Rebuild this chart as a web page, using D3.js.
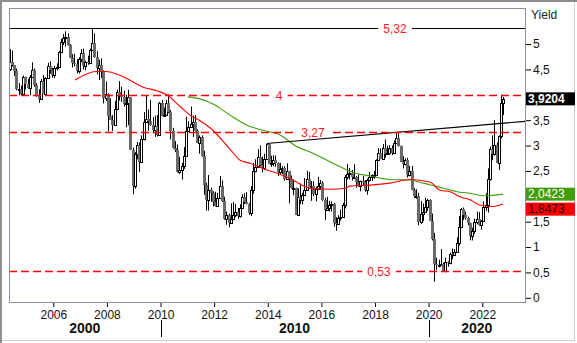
<!DOCTYPE html>
<html>
<head>
<meta charset="utf-8">
<script src="https://cdn.jsdelivr.net/npm/d3@7"></script>
<style>
  html, body { margin: 0; padding: 0; background: #fff; }
  svg { display: block; font-family: "Liberation Sans", Arial, sans-serif; }
</style>
</head>
<body>
<svg id="chart" width="577" height="343"></svg>
<script>
// Monthly yield candles, May 2004 – Oct 2022
const months = [
  "2004-05","2004-06","2004-07","2004-08","2004-09","2004-10","2004-11","2004-12",
  "2005-01","2005-02","2005-03","2005-04","2005-05","2005-06","2005-07","2005-08","2005-09","2005-10","2005-11","2005-12",
  "2006-01","2006-02","2006-03","2006-04","2006-05","2006-06","2006-07","2006-08","2006-09","2006-10","2006-11","2006-12",
  "2007-01","2007-02","2007-03","2007-04","2007-05","2007-06","2007-07","2007-08","2007-09","2007-10","2007-11","2007-12",
  "2008-01","2008-02","2008-03","2008-04","2008-05","2008-06","2008-07","2008-08","2008-09","2008-10","2008-11","2008-12",
  "2009-01","2009-02","2009-03","2009-04","2009-05","2009-06","2009-07","2009-08","2009-09","2009-10","2009-11","2009-12",
  "2010-01","2010-02","2010-03","2010-04","2010-05","2010-06","2010-07","2010-08","2010-09","2010-10","2010-11","2010-12",
  "2011-01","2011-02","2011-03","2011-04","2011-05","2011-06","2011-07","2011-08","2011-09","2011-10","2011-11","2011-12",
  "2012-01","2012-02","2012-03","2012-04","2012-05","2012-06","2012-07","2012-08","2012-09","2012-10","2012-11","2012-12",
  "2013-01","2013-02","2013-03","2013-04","2013-05","2013-06","2013-07","2013-08","2013-09","2013-10","2013-11","2013-12",
  "2014-01","2014-02","2014-03","2014-04","2014-05","2014-06","2014-07","2014-08","2014-09","2014-10","2014-11","2014-12",
  "2015-01","2015-02","2015-03","2015-04","2015-05","2015-06","2015-07","2015-08","2015-09","2015-10","2015-11","2015-12",
  "2016-01","2016-02","2016-03","2016-04","2016-05","2016-06","2016-07","2016-08","2016-09","2016-10","2016-11","2016-12",
  "2017-01","2017-02","2017-03","2017-04","2017-05","2017-06","2017-07","2017-08","2017-09","2017-10","2017-11","2017-12",
  "2018-01","2018-02","2018-03","2018-04","2018-05","2018-06","2018-07","2018-08","2018-09","2018-10","2018-11","2018-12",
  "2019-01","2019-02","2019-03","2019-04","2019-05","2019-06","2019-07","2019-08","2019-09","2019-10","2019-11","2019-12",
  "2020-01","2020-02","2020-03","2020-04","2020-05","2020-06","2020-07","2020-08","2020-09","2020-10","2020-11","2020-12",
  "2021-01","2021-02","2021-03","2021-04","2021-05","2021-06","2021-07","2021-08","2021-09","2021-10","2021-11","2021-12",
  "2022-01","2022-02","2022-03","2022-04","2022-05","2022-06","2022-07","2022-08","2022-09","2022-10"
];
const open = [
  4.51,4.65,4.58,4.47,4.12,4.12,4.02,4.35,
  4.22,4.13,4.36,4.48,4.20,3.98,3.91,4.28,4.02,4.33,4.56,4.49,
  4.39,4.52,4.55,4.85,5.05,5.12,5.14,4.98,4.73,4.63,4.61,4.46,
  4.70,4.82,4.56,4.64,4.63,4.89,5.02,4.74,4.53,4.58,4.47,3.94,
  4.02,3.59,3.51,3.41,3.73,4.06,3.97,3.95,3.81,3.83,3.95,2.92,
  2.21,2.84,3.02,2.67,3.12,3.46,3.53,3.48,3.40,3.31,3.39,3.20,
  3.84,3.59,3.61,3.83,3.66,3.29,2.95,2.91,2.47,2.51,2.60,2.80,
  3.29,3.37,3.42,3.47,3.29,3.05,3.16,2.80,2.22,1.92,2.12,2.07,
  1.88,1.80,1.97,2.21,1.91,1.56,1.64,1.47,1.55,1.63,1.69,1.62,
  1.76,1.98,1.88,1.85,1.67,2.13,2.49,2.58,2.78,2.61,2.55,2.74,
  3.03,2.64,2.65,2.72,2.65,2.48,2.53,2.56,2.34,2.49,2.34,2.16,
  2.17,1.64,1.99,1.92,2.03,2.12,2.35,2.18,2.21,2.04,2.14,2.21,
  2.27,1.92,1.73,1.77,1.83,1.85,1.47,1.45,1.58,1.59,1.83,2.38,
  2.44,2.45,2.39,2.39,2.28,2.20,2.30,2.29,2.12,2.33,2.38,2.41,
  2.41,2.71,2.86,2.74,2.95,2.83,2.85,2.96,2.86,3.06,3.14,2.99,
  2.68,2.63,2.72,2.41,2.50,2.12,2.00,2.01,1.50,1.66,1.69,1.78,
  1.92,1.51,1.15,0.67,0.64,0.65,0.66,0.53,0.70,0.68,0.87,0.84,
  0.91,1.07,1.40,1.74,1.63,1.58,1.47,1.22,1.31,1.49,1.55,1.44,
  1.51,1.78,1.83,2.34,2.94,2.84,3.01,2.65,3.19,3.83
];
const high = [
  4.90,4.87,4.58,4.52,4.23,4.18,4.38,4.36,
  4.31,4.39,4.64,4.52,4.23,4.11,4.31,4.39,4.35,4.63,4.66,4.53,
  4.57,4.62,4.87,5.10,5.20,5.25,5.21,5.00,4.80,4.81,4.70,4.74,
  4.90,4.91,4.67,4.77,4.91,5.32,5.21,4.86,4.69,4.72,4.48,4.26,
  4.03,3.93,3.60,3.88,4.10,4.27,4.16,4.08,4.00,4.10,3.95,2.96,
  2.87,3.07,3.06,3.20,3.66,4.00,3.71,3.90,3.56,3.59,3.60,3.86,
  3.90,3.75,3.90,4.01,3.70,3.35,3.09,3.02,2.78,2.66,2.97,3.57,
  3.48,3.77,3.59,3.60,3.32,3.20,3.20,2.90,2.27,2.42,2.17,2.10,
  2.09,2.07,2.40,2.31,1.99,1.70,1.66,1.86,1.89,1.85,1.77,1.84,
  2.04,2.06,2.08,1.87,2.20,2.66,2.73,2.93,3.00,2.78,2.84,3.04,
  3.03,2.80,2.81,2.80,2.67,2.66,2.59,2.59,2.65,2.50,2.41,2.33,
  2.17,2.16,2.25,2.07,2.36,2.50,2.48,2.30,2.30,2.19,2.38,2.32,
  2.30,1.97,1.99,1.91,1.90,1.87,1.59,1.63,1.74,1.87,2.42,2.64,
  2.56,2.52,2.63,2.40,2.42,2.31,2.40,2.32,2.35,2.48,2.43,2.50,
  2.73,2.95,2.94,3.03,3.12,3.00,3.01,3.00,3.10,3.26,3.24,3.00,
  2.79,2.75,2.76,2.60,2.60,2.16,2.14,2.07,1.91,1.86,1.97,1.95,
  1.94,1.66,1.28,0.79,0.75,0.96,0.69,0.79,0.72,0.89,0.97,0.96,
  1.19,1.61,1.77,1.78,1.70,1.60,1.48,1.38,1.56,1.70,1.69,1.53,
  1.90,2.06,2.55,2.98,3.20,3.50,3.06,3.20,4.00,3.96
];
const low = [
  4.47,4.56,4.37,4.09,3.99,3.99,4.00,4.10,
  4.12,3.99,4.35,4.16,3.96,3.84,3.91,4.02,3.99,4.31,4.42,4.34,
  4.33,4.48,4.54,4.84,4.98,4.95,4.97,4.72,4.54,4.56,4.42,4.42,
  4.64,4.50,4.48,4.59,4.61,4.88,4.73,4.40,4.29,4.33,3.83,3.88,
  3.28,3.51,3.29,3.41,3.72,3.89,3.86,3.77,3.36,3.40,2.92,2.04,
  2.15,2.73,2.48,2.66,3.10,3.45,3.29,3.39,3.24,3.17,3.18,3.19,
  3.58,3.56,3.60,3.64,3.12,2.94,2.87,2.47,2.44,2.33,2.54,2.80,
  3.27,3.37,3.17,3.28,3.05,2.84,2.78,2.03,1.72,1.72,1.89,1.80,
  1.80,1.79,1.96,1.89,1.54,1.44,1.39,1.47,1.53,1.59,1.56,1.58,
  1.76,1.85,1.84,1.63,1.61,2.05,2.47,2.57,2.59,2.47,2.53,2.74,
  2.64,2.58,2.59,2.58,2.40,2.44,2.44,2.31,2.34,1.86,2.15,2.02,
  1.64,1.64,1.85,1.84,2.02,2.12,2.18,1.91,2.00,1.90,2.14,2.13,
  1.91,1.53,1.73,1.70,1.70,1.40,1.32,1.49,1.52,1.59,1.76,2.33,
  2.33,2.31,2.36,2.17,2.19,2.10,2.22,2.09,2.03,2.29,2.30,2.34,
  2.40,2.70,2.74,2.72,2.76,2.82,2.82,2.81,2.85,3.05,2.98,2.68,
  2.55,2.61,2.37,2.39,2.12,1.97,1.95,1.43,1.46,1.51,1.68,1.71,
  1.51,1.13,0.32,0.55,0.60,0.63,0.52,0.50,0.61,0.66,0.76,0.82,
  0.90,1.03,1.40,1.53,1.54,1.43,1.13,1.13,1.26,1.45,1.42,1.34,
  1.50,1.71,1.68,2.31,2.71,2.80,2.65,2.52,3.14,3.60
];
const close = [
  4.65,4.58,4.47,4.12,4.12,4.02,4.35,4.22,
  4.13,4.36,4.48,4.20,3.98,3.91,4.28,4.02,4.33,4.56,4.49,4.39,
  4.52,4.55,4.85,5.05,5.12,5.14,4.98,4.73,4.63,4.61,4.46,4.70,
  4.82,4.56,4.64,4.63,4.89,5.02,4.74,4.53,4.58,4.47,3.94,4.02,
  3.59,3.51,3.41,3.73,4.06,3.97,3.95,3.81,3.83,3.95,2.92,2.21,
  2.84,3.02,2.67,3.12,3.46,3.53,3.48,3.40,3.31,3.39,3.20,3.84,
  3.59,3.61,3.83,3.66,3.29,2.95,2.91,2.47,2.51,2.60,2.80,3.29,
  3.37,3.42,3.47,3.29,3.05,3.16,2.80,2.22,1.92,2.12,2.07,1.88,
  1.80,1.97,2.21,1.91,1.56,1.64,1.47,1.55,1.63,1.69,1.62,1.76,
  1.98,1.88,1.85,1.67,2.13,2.49,2.58,2.78,2.61,2.55,2.74,3.03,
  2.64,2.65,2.72,2.65,2.48,2.53,2.56,2.34,2.49,2.34,2.16,2.17,
  1.64,1.99,1.92,2.03,2.12,2.35,2.18,2.21,2.04,2.14,2.21,2.27,
  1.92,1.73,1.77,1.83,1.85,1.47,1.45,1.58,1.59,1.83,2.38,2.44,
  2.45,2.39,2.39,2.28,2.20,2.30,2.29,2.12,2.33,2.38,2.41,2.41,
  2.71,2.86,2.74,2.95,2.83,2.85,2.96,2.86,3.06,3.14,2.99,2.68,
  2.63,2.72,2.41,2.50,2.12,2.00,2.01,1.50,1.66,1.69,1.78,1.92,
  1.51,1.15,0.67,0.64,0.65,0.66,0.53,0.70,0.68,0.87,0.84,0.91,
  1.07,1.40,1.74,1.63,1.58,1.47,1.22,1.31,1.49,1.55,1.44,1.51,
  1.78,1.83,2.34,2.94,2.84,3.01,2.65,3.19,3.83,3.9204
];

// Moving averages (red: shorter, green: longer)
const redMADates = ["2006-10-23","2007-08-07","2007-12-24","2008-05-12","2008-09-27","2009-05-11","2009-11-10",
  "2010-03-26","2010-09-24","2011-02-06","2011-06-21","2011-11-06","2012-08-04","2012-12-20","2013-05-05",
  "2013-12-20","2014-05-19","2014-10-30","2015-07-31","2016-04-27","2016-11-17","2017-01-26","2017-10-27",
  "2018-07-24","2019-04-23","2020-01-19","2020-06-03","2020-10-19","2021-03-04","2021-07-16","2021-11-28",
  "2022-05-27","2022-10-12"];
const redMA = [4.29,4.46,4.46,4.41,4.32,4.15,4.08,
  4.00,3.77,3.60,3.49,3.35,2.93,2.71,2.65,
  2.52,2.45,2.35,2.16,2.14,2.16,2.20,2.22,
  2.26,2.33,2.28,2.12,2.09,1.99,1.93,1.83,
  1.80,1.8473];
const greenMADates = ["2011-01-05","2011-06-21","2011-12-17","2012-08-04","2013-03-24","2013-10-27","2014-06-17",
  "2015-01-30","2015-09-09","2016-04-27","2016-12-13","2017-03-07","2017-10-27","2018-07-24","2019-04-23",
  "2019-10-20","2020-04-27","2021-03-04","2021-07-16","2022-02-06","2022-10-12"];
const greenMA = [3.96,3.92,3.82,3.60,3.40,3.30,3.21,
  2.98,2.85,2.68,2.52,2.47,2.40,2.33,2.32,
  2.26,2.19,2.08,2.06,2.01,2.0423];

// Trend line anchors (extended to the right edge)
const trendDates = ["2013-12-16","2018-10-20"];
const trendValues = [3.04, 3.26];

// Horizontal levels
const levelValues = [5.32, 4, 3.27, 0.53];
const levelLabels = ["5,32", "4", "3,27", "0,53"];

// Axis ticks
const yTicks = [0, 0.5, 1, 1.5, 2, 2.5, 3, 3.5, 4, 4.5, 5];
const xTickYears = [2006, 2008, 2010, 2012, 2014, 2016, 2018, 2020, 2022];
const decadeLabels = ["2000", "2010", "2020"];
const decadeStarts = [2010, 2020];

// Last values shown in the right margin
const lastValues = [3.9204, 2.0423, 1.8473];

// ---------------------------------------------------------------
const svg = d3.select("#chart");
const plot = { left: 9, top: 8, right: 525, bottom: 302 };
const parse = d3.timeParse("%Y-%m-%d");
const comma = v => String(v).replace(".", ",");

const x = d3.scaleTime()
  .domain([new Date(2006, 0, 1), new Date(2022, 0, 1)])
  .range([53.3, 482.3]);
const y = d3.scaleLinear().domain([0, 5]).range([297.8, 44.05]);

// outer window frame
svg.append("rect").attr("width", 577).attr("height", 343).attr("fill", "#fff");
svg.append("line").attr("x1", 0).attr("x2", 577).attr("y1", 1).attr("y2", 1)
  .attr("stroke", "#8e8e8e").attr("stroke-width", 2);
svg.append("line").attr("x1", 1).attr("x2", 1).attr("y1", 0).attr("y2", 343)
  .attr("stroke", "#8e8e8e").attr("stroke-width", 2);
svg.append("line").attr("x1", 574.5).attr("x2", 574.5).attr("y1", 2).attr("y2", 340.5)
  .attr("stroke", "#cfcfcf");
svg.append("line").attr("x1", 2).attr("x2", 575).attr("y1", 340.5).attr("y2", 340.5)
  .attr("stroke", "#cfcfcf");

// clip for plot content
svg.append("defs").append("clipPath").attr("id", "plotclip")
  .append("rect").attr("x", plot.left + 1).attr("y", plot.top + 1)
  .attr("width", plot.right - plot.left - 1).attr("height", plot.bottom - plot.top - 1);

const g = svg.append("g").attr("clip-path", "url(#plotclip)");

// candles
const candles = months.map((m, i) => {
  const [yy, mm] = m.split("-").map(Number);
  return { date: new Date(yy, mm - 1, 15), o: open[i], h: high[i], l: low[i], c: close[i] };
});
const cg = g.append("g");
candles.forEach(d => {
  const c = Math.round(x(d.date));
  cg.append("line")
    .attr("x1", c + 0.5).attr("x2", c + 0.5)
    .attr("y1", y(d.h)).attr("y2", y(d.l))
    .attr("stroke", "#000").attr("stroke-width", 1);
  const top = y(Math.max(d.o, d.c)), bot = y(Math.min(d.o, d.c));
  if (d.c >= d.o) {
    cg.append("rect")
      .attr("x", c - 0.5).attr("width", 2)
      .attr("y", Math.round(top) + 0.5).attr("height", Math.max(1, Math.round(bot) - Math.round(top)))
      .attr("fill", "#fff").attr("stroke", "#000").attr("stroke-width", 1);
  } else {
    cg.append("rect")
      .attr("x", c - 1).attr("width", 3)
      .attr("y", Math.round(top)).attr("height", Math.max(1, Math.round(bot) - Math.round(top)))
      .attr("fill", "#6a6a6a");
  }
});

// moving averages
const line = d3.line().x(d => x(d[0])).y(d => y(d[1])).curve(d3.curveMonotoneX);
g.append("path")
  .datum(greenMADates.map((s, i) => [parse(s), greenMA[i]]))
  .attr("d", line).attr("fill", "none").attr("stroke", "#3f9e0a").attr("stroke-width", 1.1);
g.append("path")
  .datum(redMADates.map((s, i) => [parse(s), redMA[i]]))
  .attr("d", line).attr("fill", "none").attr("stroke", "#ff0000").attr("stroke-width", 1.1);

// trend line, extended to the right border
const t0 = parse(trendDates[0]), t1 = parse(trendDates[1]);
const slope = (trendValues[1] - trendValues[0]) / (t1 - t0);
const tEnd = x.invert(plot.right);
g.append("line")
  .attr("x1", x(t0)).attr("y1", y(trendValues[0]))
  .attr("x2", x(tEnd)).attr("y2", y(trendValues[0] + slope * (tEnd - t0)))
  .attr("stroke", "#000").attr("stroke-width", 1.2);

// horizontal levels with labels
const labelX = [395, 279, 313, 379];
levelValues.forEach((v, i) => {
  const yy = Math.round(y(v)) + 0.5;
  const solid = i === 0;
  g.append("line")
    .attr("x1", plot.left).attr("x2", plot.right).attr("y1", yy).attr("y2", yy)
    .attr("stroke", solid ? "#000" : "#ff0000")
    .attr("stroke-width", solid ? 1.2 : 1.4)
    .attr("stroke-dasharray", solid ? null : "8,4");
  const t = g.append("text")
    .attr("x", labelX[i]).attr("y", yy).attr("dy", "0.35em")
    .attr("text-anchor", "middle")
    .attr("font-size", 12).attr("fill", "#ff1a1a")
    .text(levelLabels[i]);
  const bb = t.node().getBBox();
  g.insert("rect", () => t.node())
    .attr("x", bb.x - 5).attr("y", yy - 3).attr("width", bb.width + 10).attr("height", 6)
    .attr("fill", "#fff");
});

// plot border
svg.append("rect")
  .attr("x", plot.left + 0.5).attr("y", plot.top + 0.5)
  .attr("width", plot.right - plot.left).attr("height", plot.bottom - plot.top)
  .attr("fill", "none").attr("stroke", "#8e8ea0");

// right axis
const yAxis = d3.axisRight(y).tickValues(yTicks).tickSize(5).tickPadding(2)
  .tickFormat(comma);
const ya = svg.append("g").attr("transform", `translate(${plot.right + 1},0)`).call(yAxis);
ya.select(".domain").remove();
ya.selectAll("line").attr("stroke", "#000");
ya.selectAll("text").attr("font-size", 12).attr("fill", "#111")
  .attr("font-family", "Liberation Sans, Arial, sans-serif");

svg.append("text").attr("x", 531).attr("y", 19)
  .attr("font-size", 12).attr("fill", "#222").text("Yield");

// bottom axis: years
const xAxis = d3.axisBottom(x).tickValues(xTickYears.map(yr => new Date(yr, 0, 1)))
  .tickSize(4).tickPadding(3).tickFormat(d3.timeFormat("%Y"));
const xa = svg.append("g").attr("transform", `translate(0,${plot.bottom + 1})`).call(xAxis);
xa.select(".domain").remove();
xa.selectAll("line").attr("stroke", "#000");
xa.selectAll("text").attr("font-size", 12).attr("fill", "#111")
  .attr("font-family", "Liberation Sans, Arial, sans-serif");

// decade separators and labels
const bounds = [plot.left, ...decadeStarts.map(yr => x(new Date(yr, 0, 1))), plot.right];
decadeStarts.forEach(yr => {
  const xx = Math.round(x(new Date(yr, 0, 1))) + 0.5;
  svg.append("line").attr("x1", xx).attr("x2", xx).attr("y1", 320).attr("y2", 337)
    .attr("stroke", "#000");
});
decadeLabels.forEach((lab, i) => {
  svg.append("text")
    .attr("x", (bounds[i] + bounds[i + 1]) / 2).attr("y", 333)
    .attr("text-anchor", "middle").attr("font-size", 14).attr("font-weight", "bold")
    .attr("fill", "#111").text(lab);
});

// last-value boxes in the right margin; they cover the axis ticks behind them
const boxStyle = [
  { fill: "#000000", text: "#ffffff", bold: true },
  { fill: "#3f9e0a", text: "#ffffff", bold: false },
  { fill: "#ff0000", text: "#2a0000", bold: false }
];
const boxH = 13;
const boxSpans = [];
let prevBottom = -Infinity;
lastValues.map((v, i) => ({ v, i }))
  .sort((a, b) => b.v - a.v)
  .forEach(({ v, i }) => {
    let top = y(v) - boxH / 2;
    if (top < prevBottom + 2) top = prevBottom + 2;
    prevBottom = top + boxH;
    boxSpans.push([top, top + boxH]);
    svg.append("rect").attr("x", plot.right + 1).attr("y", top)
      .attr("width", 49).attr("height", boxH).attr("fill", boxStyle[i].fill);
    svg.append("text").attr("x", plot.right + 3).attr("y", top + boxH / 2).attr("dy", "0.36em")
      .attr("font-size", 12).attr("font-weight", boxStyle[i].bold ? "bold" : "normal")
      .attr("fill", boxStyle[i].text).text(comma(v));
  });

// axis labels hidden under a box are dropped
ya.selectAll(".tick").filter(d => boxSpans.some(([a, b]) => y(d) > a - 4 && y(d) < b + 4))
  .select("text").remove();
</script>
</body>
</html>
